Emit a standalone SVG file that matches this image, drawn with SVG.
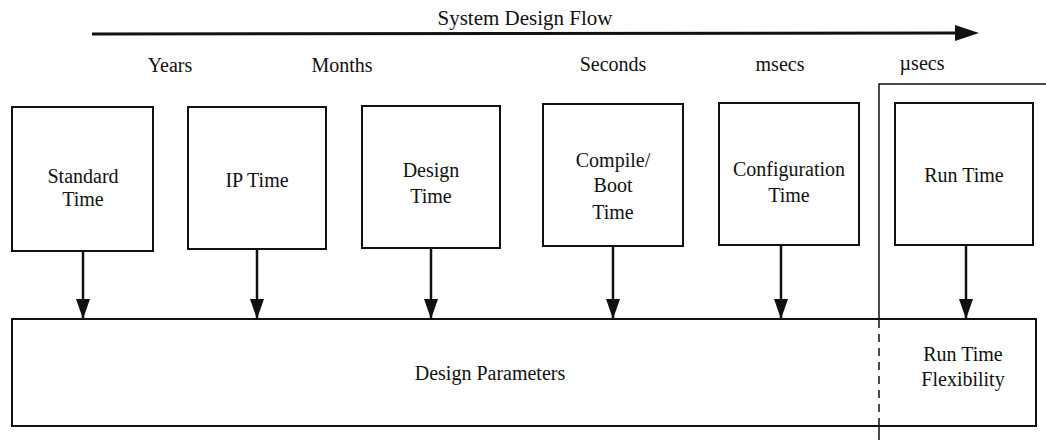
<svg xmlns="http://www.w3.org/2000/svg" width="1046" height="440" viewBox="0 0 1046 440" font-family="Liberation Serif, Times New Roman, Times, serif">
<defs>
<style>
text{font-family:'Liberation Serif','Times New Roman',Times,serif;font-size:20px;fill:#111;text-anchor:middle}
.box{fill:#fff;stroke:#111;stroke-width:2}
.conn{stroke:#111;stroke-width:2.5;fill:none}
</style>
<marker id="ah" viewBox="0 0 20 14" refX="20" refY="7" markerWidth="20" markerHeight="14" markerUnits="userSpaceOnUse" orient="auto">
<path d="M0,0 L20,7 L0,14 Z" fill="#111"/>
</marker>
</defs>
<rect width="1046" height="440" fill="#fff"/>
<g id="flow">
<text x="525" y="25" style="font-size:21px">System Design Flow</text>
<line x1="92" y1="34" x2="958" y2="33" stroke="#111" stroke-width="3"/>
<path d="M955,25 L979,33 L955,41 Z" fill="#111"/>
</g>
<g id="scale">
<text x="170" y="72">Years</text>
<text x="342" y="72">Months</text>
<text x="613" y="71">Seconds</text>
<text x="780" y="71">msecs</text>
<text x="922" y="70">µsecs</text>
</g>
<g id="runtime-frame">
<path d="M1046,84 L879,84 L879,318" class="conn" style="stroke-width:1.5"/>
<line x1="879" y1="320" x2="879" y2="426" stroke="#111" stroke-width="1.5" stroke-dasharray="8,6"/>
<line x1="879" y1="426" x2="879" y2="440" stroke="#111" stroke-width="1.5"/>
</g>
<g id="standard-time">
<rect class="box" x="12" y="107" width="141" height="144"/>
<text x="83" y="183">Standard</text>
<text x="83" y="206">Time</text>
</g>
<g id="ip-time">
<rect class="box" x="188" y="107" width="138" height="142"/>
<text x="257" y="187">IP Time</text>
</g>
<g id="design-time">
<rect class="box" x="362" y="106" width="138" height="142"/>
<text x="431" y="177">Design</text>
<text x="431" y="203">Time</text>
</g>
<g id="compile-boot-time">
<rect class="box" x="543" y="104" width="140" height="142"/>
<text x="613" y="167">Compile/</text>
<text x="613" y="192">Boot</text>
<text x="613" y="219">Time</text>
</g>
<g id="configuration-time">
<rect class="box" x="719" y="103" width="140" height="142"/>
<text x="789" y="176">Configuration</text>
<text x="789" y="202">Time</text>
</g>
<g id="run-time">
<rect class="box" x="895" y="103" width="138" height="142"/>
<text x="964" y="182">Run Time</text>
</g>
<g id="design-parameters">
<rect class="box" x="12" y="319" width="1024" height="107" style="fill:none"/>
<text x="490" y="380">Design Parameters</text>
<text x="963" y="361">Run Time</text>
<text x="963" y="386">Flexibility</text>
</g>
<g id="connectors">
<line class="conn" x1="83" y1="251" x2="83" y2="319" marker-end="url(#ah)"/>
<line class="conn" x1="257" y1="249" x2="257" y2="319" marker-end="url(#ah)"/>
<line class="conn" x1="431" y1="248" x2="431" y2="319" marker-end="url(#ah)"/>
<line class="conn" x1="613" y1="246" x2="613" y2="319" marker-end="url(#ah)"/>
<line class="conn" x1="781" y1="245" x2="781" y2="319" marker-end="url(#ah)"/>
<line class="conn" x1="966" y1="245" x2="966" y2="319" marker-end="url(#ah)"/>
</g>
</svg>
